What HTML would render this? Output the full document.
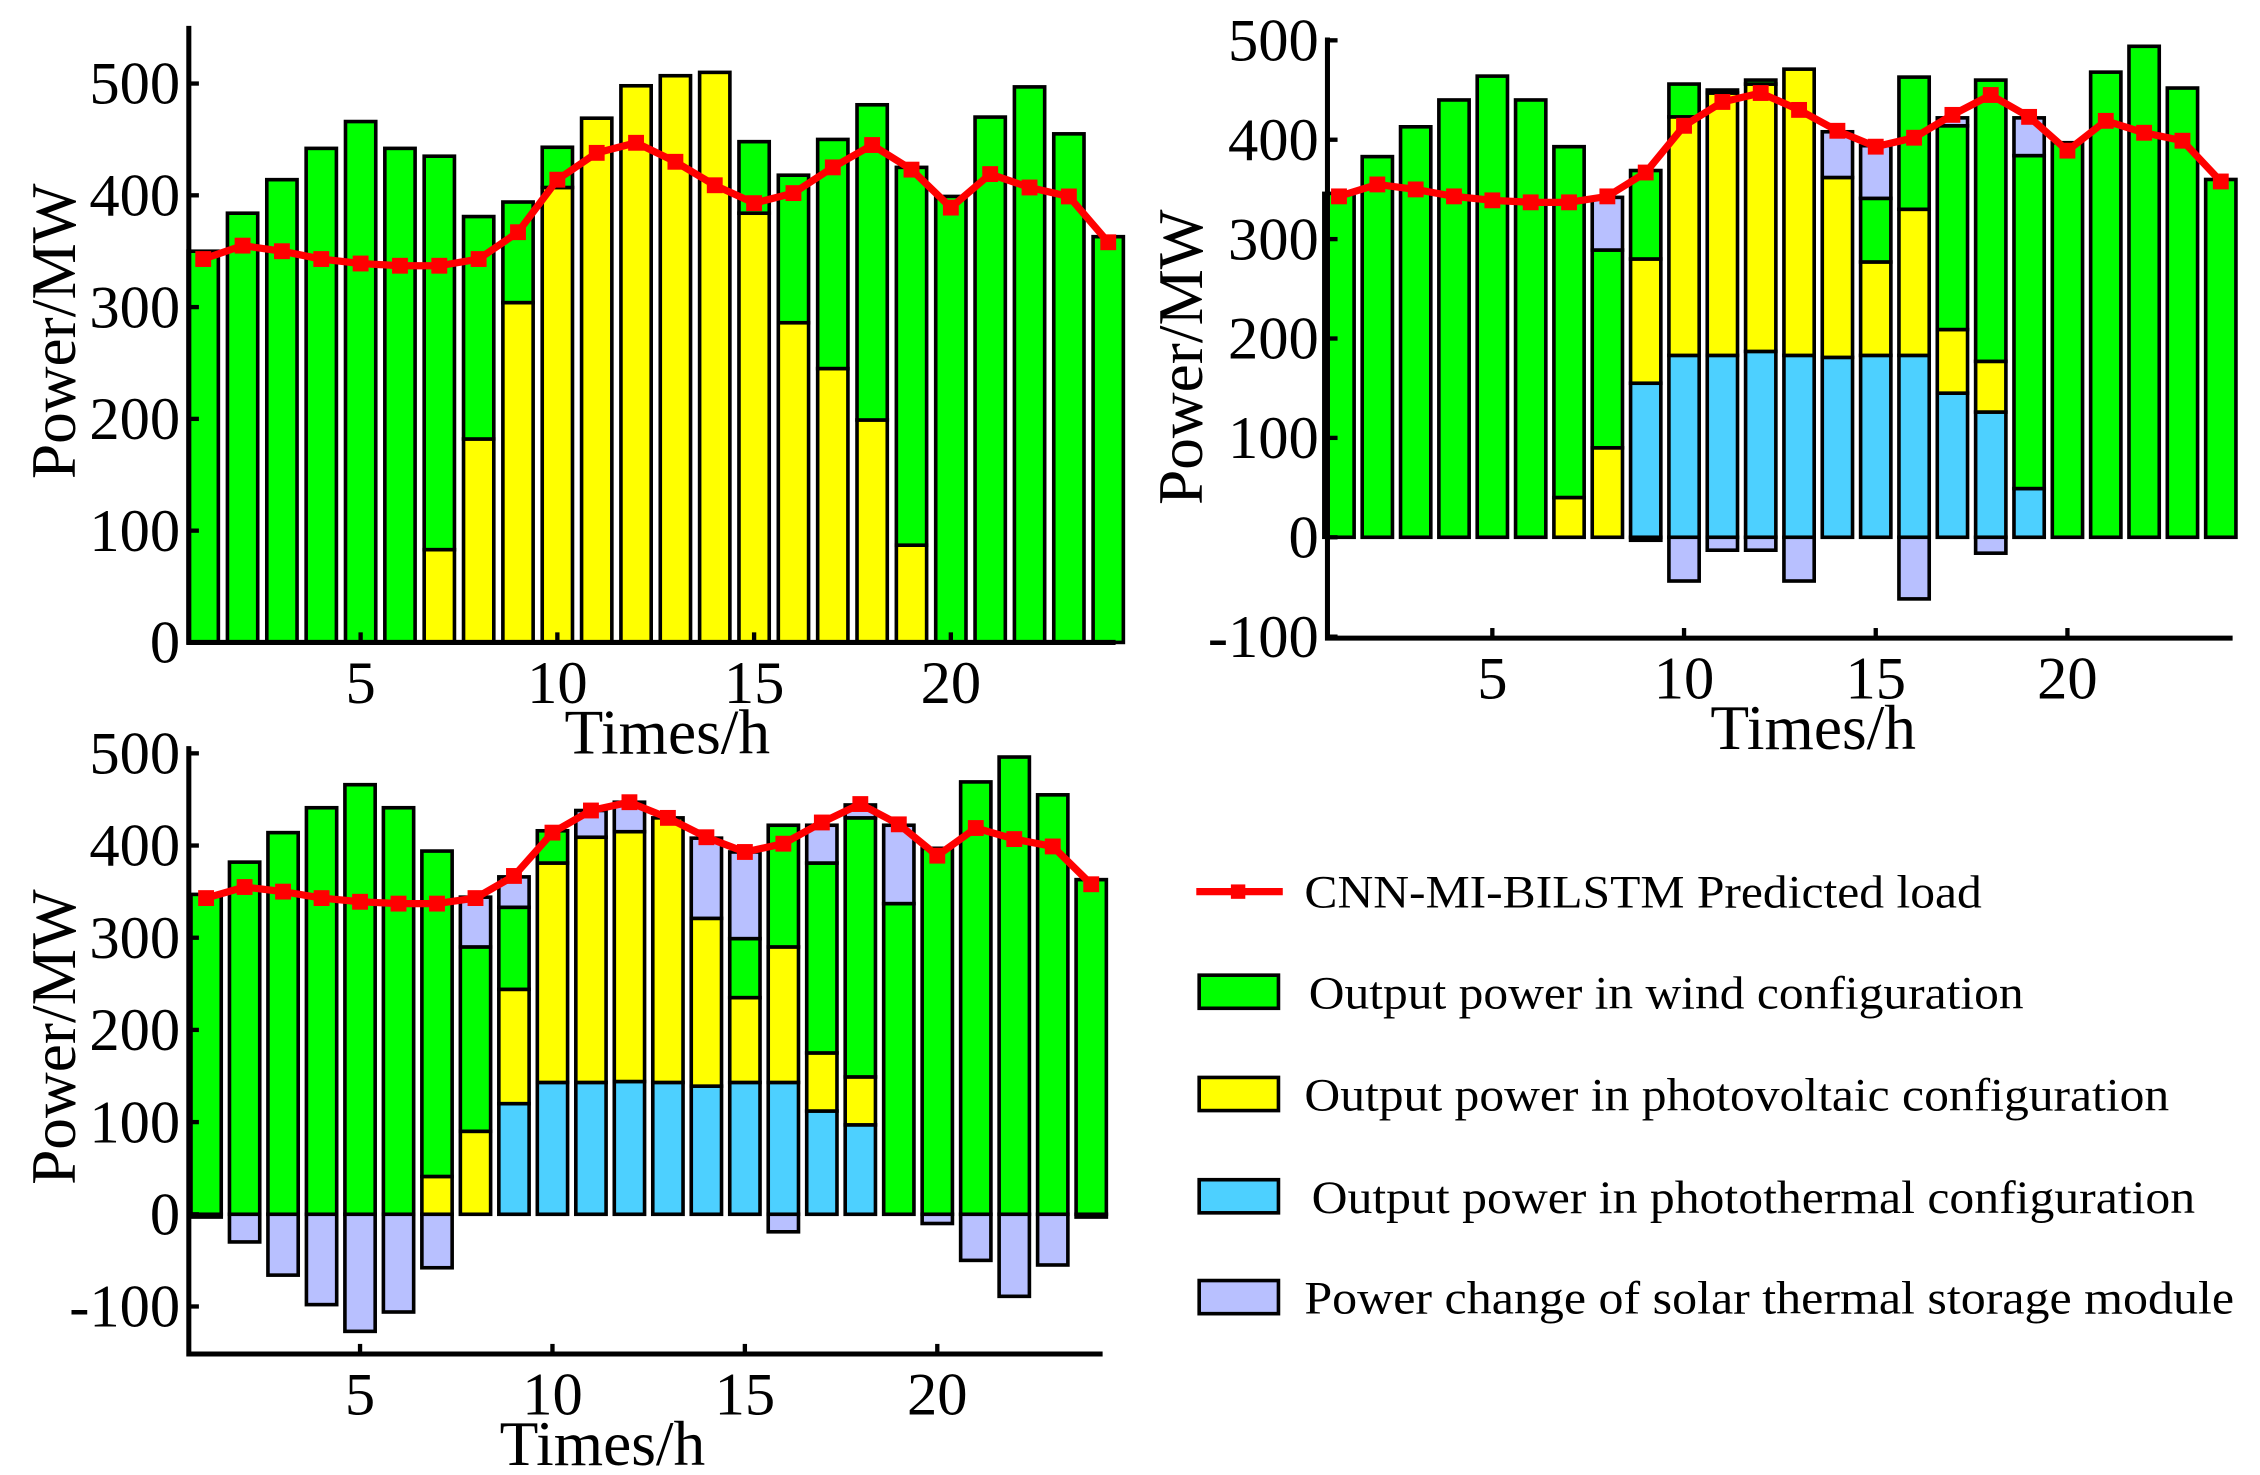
<!DOCTYPE html>
<html><head><meta charset="utf-8"><style>
html,body{margin:0;padding:0;background:#fff;}
svg{display:block;}
text{font-family:"Liberation Serif",serif;fill:#000;}
</style></head><body>
<svg id="fig" xmlns="http://www.w3.org/2000/svg" width="2260" height="1475" viewBox="0 0 1568 1024" preserveAspectRatio="none">
<g id="legend">
  <g>
    <line x1="830" y1="619" x2="890" y2="619" stroke="#ff0000" stroke-width="5"/>
    <rect x="854" y="614" width="10" height="10" fill="#ff0000"/>
    <text x="905" y="630" font-size="32" textLength="470" lengthAdjust="spacingAndGlyphs">CNN-MI-BILSTM Predicted load</text>
  </g>
  <g>
    <rect x="832" y="677" width="55" height="23" fill="#00ff00" stroke="#000" stroke-width="2.5"/>
    <text x="908" y="700" font-size="32" textLength="496" lengthAdjust="spacingAndGlyphs">Output power in wind configuration</text>
  </g>
  <g>
    <rect x="832" y="748" width="55" height="23" fill="#ffff00" stroke="#000" stroke-width="2.5"/>
    <text x="905" y="771" font-size="32" textLength="600" lengthAdjust="spacingAndGlyphs">Output power in photovoltaic configuration</text>
  </g>
  <g>
    <rect x="832" y="819" width="55" height="23" fill="#4dd0ff" stroke="#000" stroke-width="2.5"/>
    <text x="910" y="842" font-size="32" textLength="613" lengthAdjust="spacingAndGlyphs">Output power in photothermal configuration</text>
  </g>
  <g>
    <rect x="832" y="889" width="55" height="23" fill="#b8c0ff" stroke="#000" stroke-width="2.5"/>
    <text x="905" y="912" font-size="32" textLength="645" lengthAdjust="spacingAndGlyphs">Power change of solar thermal storage module</text>
  </g>
</g>
</svg>
<script>
// ---- data ----
const hours = [1,2,3,4,5,6,7,8,9,10,11,12,13,14,15,16,17,18,19,20,21,22,23,24];
const load = [343,355,350,343,339,337,337,343,367,414,438,447,430,409,393,402,425,445,423,389,419,407,399,358];
const yTicksA = [0,100,200,300,400,500];
const yTicksB = [-100,0,100,200,300,400,500];
const xTicks = [5,10,15,20];
// chart 1 (wind + PV)
const c1Blue = [0,0,0,0,0,0,0,0,0,0,0,0,0,0,0,0,0,0,0,0,0,0,0,0];
const c1Pv = [0,0,0,0,0,0,83,182,304,407,469,498,507,510,384,286,245,199,87,0,0,0,0,0];
const c1Wind = [350,384,414,442,466,442,352,199,90,36,0,0,0,0,64,132,205,282,338,399,470,497,455,363];
const c1Storage = [0,0,0,0,0,0,0,0,0,0,0,0,0,0,0,0,0,0,0,0,0,0,0,0];
// chart 2
const c2Blue = [0,0,0,0,0,0,0,0,155,183,183,187,183,181,183,183,145,126,49,0,0,0,0,0];
const c2Pv = [0,0,0,0,0,0,40,90,125,240,264,269,288,181,94,147,64,51,0,0,0,0,0,0];
const c2Wind = [346,383,413,440,464,440,353,199,89,33,3,4,0,0,64,133,205,283,335,397,468,494,452,360];
const c2Storage = [0,0,0,0,0,0,0,53,-3,-44,-13,-13,-44,46,53,-62,8,-16,38,0,0,0,0,0];
// chart 3
const c3Blue = [0,0,0,0,0,0,0,0,120,143,143,144,143,139,143,143,112,97,0,0,0,0,0,0];
const c3Pv = [0,0,0,0,0,0,41,90,124,238,266,271,287,182,92,147,63,52,0,0,0,0,0,0];
const c3Wind = [347,382,414,441,466,441,353,200,89,35,0,0,0,0,64,132,206,281,337,397,469,496,455,363];
const c3Storage = [-3,-30,-66,-98,-127,-106,-58,54,33,0,29,32,0,87,94,-19,41,14,85,-10,-50,-89,-55,-3];

const NS = 'http://www.w3.org/2000/svg';
const svg = document.getElementById('fig');
function mk(tag, attrs, parent){
  const e = document.createElementNS(NS, tag);
  for (const k in attrs) e.setAttribute(k, attrs[k]);
  parent.appendChild(e);
  return e;
}
const COL = {blue:'#4dd0ff', pv:'#ffff00', wind:'#00ff00', st:'#b8c0ff'};

function drawChart(name, cfg, blue, pv, wind, storage, ticks){
  const g = mk('g', {}, svg);
  
  
  const xs = h => cfg.x1 + (h - 1) * cfg.dx;
  const ys = v => cfg.y0 - v * cfg.ppu;
  const bw = cfg.bw;
  hours.forEach((h, i) => {
    const bg = mk('g', {}, g);
    
    
    const segs = [['blue', blue[i]], ['pv', pv[i]], ['wind', wind[i]]];
    if (storage[i] > 0) segs.push(['st', storage[i]]);
    let base = 0;
    segs.forEach(([k, v]) => {
      if (v <= 0) return;
      const r = mk('rect', {x: xs(h) - bw/2, y: ys(base + v), width: bw, height: v * cfg.ppu,
        fill: COL[k], stroke: '#000', 'stroke-width': 2.5}, bg);
      
      
      base += v;
    });
    if (storage[i] < 0) {
      const r = mk('rect', {x: xs(h) - bw/2, y: ys(0), width: bw, height: -storage[i] * cfg.ppu,
        fill: COL.st, stroke: '#000', 'stroke-width': 2.5}, bg);
      
      
    }
  });
  const ax = mk('path', {d: `M${cfg.left},${cfg.top} L${cfg.left},${cfg.bottom} L${cfg.right},${cfg.bottom}`,
    fill: 'none', stroke: '#000', 'stroke-width': 3.5}, g);
  
  
  ticks.forEach(t => {
    const y = ys(t);
    const tl = mk('line', {x1: cfg.left, x2: cfg.left + 7, y1: y, y2: y, stroke: '#000', 'stroke-width': 3}, g);
    
    
    const tx = mk('text', {x: cfg.left - 6, y: y + 14, 'font-size': 42, 'text-anchor': 'end'}, g);
    
    
    tx.textContent = t;
  });
  xTicks.forEach(t => {
    const x = xs(t);
    const tl = mk('line', {x1: x, x2: x, y1: cfg.bottom, y2: cfg.bottom - 7, stroke: '#000', 'stroke-width': 3}, g);
    
    
    const tx = mk('text', {x: x, y: cfg.bottom + 42, 'font-size': 42, 'text-anchor': 'middle'}, g);
    
    
    tx.textContent = t;
  });
  const xt = mk('text', {x: cfg.xtx, y: cfg.bottom + 77, 'font-size': 44, 'text-anchor': 'middle'}, g);
  
  
  xt.textContent = 'Times/h';
  const yt = mk('text', {x: 0, y: 0, 'font-size': 44, 'text-anchor': 'middle',
    transform: `translate(${cfg.ytx},${cfg.yty}) rotate(-90)`}, g);
  
  
  yt.textContent = 'Power/MW';
  const pts = hours.map((h, i) => xs(h) + ',' + ys(load[i])).join(' ');
  const pl = mk('polyline', {points: pts, fill: 'none', stroke: '#ff0000', 'stroke-width': 5, 'stroke-linejoin': 'round'}, g);
  
  
  hours.forEach((h, i) => {
    const m = mk('rect', {x: xs(h) - 5.5, y: ys(load[i]) - 5.5, width: 11, height: 11, fill: '#ff0000'}, g);
    
    
  });
}

drawChart('chart-wind-pv', {x1:141, dx:27.3, y0:446, ppu:0.776, bw:21, left:131, top:18, bottom:446, right:774, xtx:463, ytx:52, yty:230},
  c1Blue, c1Pv, c1Wind, c1Storage, yTicksA);
drawChart('chart-wind-pv-photothermal', {x1:929, dx:26.6, y0:373, ppu:0.69, bw:21, left:921, top:26, bottom:443, right:1549, xtx:1258, ytx:834, yty:248},
  c2Blue, c2Pv, c2Wind, c2Storage, yTicksB);
drawChart('chart-with-storage', {x1:143, dx:26.7, y0:843, ppu:0.64, bw:21, left:131, top:518, bottom:940, right:765, xtx:418, ytx:52, yty:720},
  c3Blue, c3Pv, c3Wind, c3Storage, yTicksB);
svg.appendChild(document.getElementById('legend'));
</script>
</body></html>
